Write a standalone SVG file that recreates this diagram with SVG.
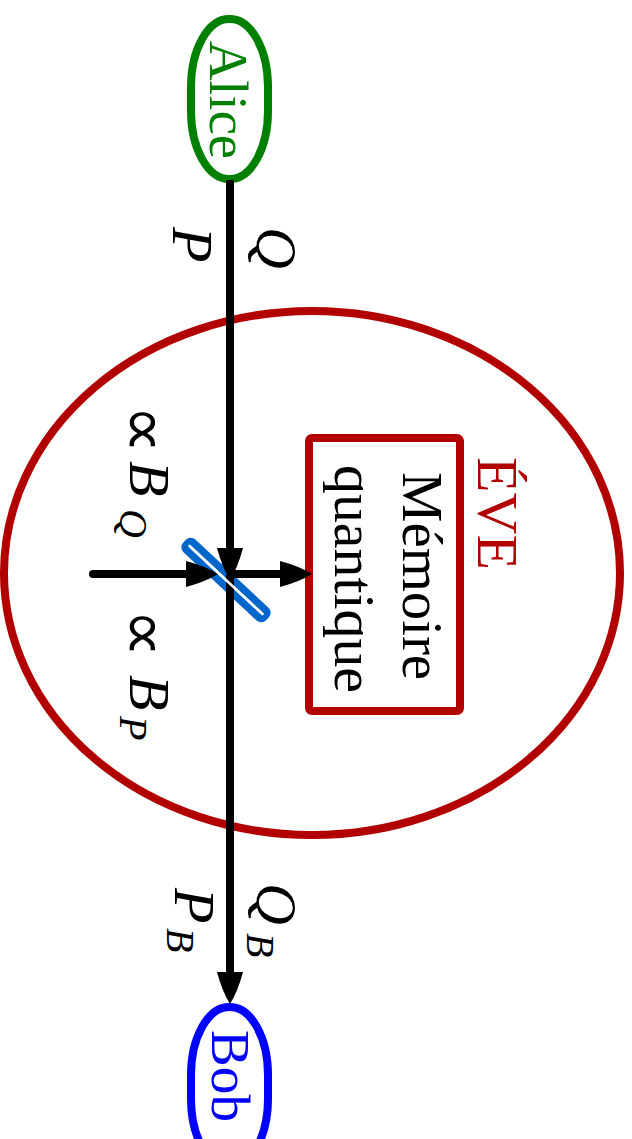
<svg xmlns="http://www.w3.org/2000/svg" width="632" height="1139" viewBox="0 0 632 1139">
<style>
.t{font-family:"Liberation Serif","DejaVu Serif",serif;}
.m{font-family:"Liberation Serif","DejaVu Serif",serif;font-style:italic;}
.prop{font-family:"DejaVu Sans",sans-serif;font-style:normal;font-size:68px;}
.ln{stroke:#000;stroke-width:8;fill:none;}
</style>
<defs>
<marker id="ah" viewBox="-32 -13 32 26" refX="-22" refY="0" markerWidth="32" markerHeight="26" markerUnits="userSpaceOnUse" orient="auto">
<path d="M-32,-13 Q-13,-8 0,0 Q-13,8 -32,13 Z" fill="#000"/>
</marker>
</defs>
<g id="eve">
<ellipse cx="312" cy="573" rx="308" ry="262" fill="none" stroke="#b20000" stroke-width="8"/>
<text class="t" transform="translate(478,513.5) rotate(90)" text-anchor="middle" font-size="56" fill="#b20000" textLength="113" lengthAdjust="spacingAndGlyphs">ÉVE</text>
</g>
<g id="memoire">
<rect x="309" y="438" width="151" height="273" rx="3" fill="#fff" stroke="#b20000" stroke-width="8"/>
<text class="t" transform="translate(403,576) rotate(90)" text-anchor="middle" font-size="58" fill="#000" textLength="208" lengthAdjust="spacingAndGlyphs">Mémoire</text>
<text class="t" transform="translate(335,579) rotate(90)" text-anchor="middle" font-size="58" fill="#000" textLength="228" lengthAdjust="spacingAndGlyphs">quantique</text>
</g>
<g id="alice">
<rect x="191" y="19" width="77" height="160" rx="38" ry="68" fill="#fff" stroke="#008000" stroke-width="8"/>
<text class="t" transform="translate(210,100) rotate(90)" text-anchor="middle" font-size="54" fill="#008000" textLength="118" lengthAdjust="spacingAndGlyphs">Alice</text>
</g>
<g id="bob">
<rect x="191" y="1007" width="77" height="160" rx="38" ry="68" fill="#fff" stroke="#0000ff" stroke-width="8"/>
<text class="t" transform="translate(212,1076) rotate(90)" text-anchor="middle" font-size="54" fill="#0000ff" textLength="92" lengthAdjust="spacingAndGlyphs">Bob</text>
</g>
<g id="splitter" transform="translate(226,580) rotate(43)">
<rect x="-53" y="-5" width="106" height="10" rx="3" fill="#fff" stroke="#0066cc" stroke-width="7.5"/>
</g>
<g id="connectors">
<line class="ln" x1="230" y1="180" x2="230" y2="558" marker-end="url(#ah)"/>
<line class="ln" x1="230" y1="575" x2="230" y2="982" marker-end="url(#ah)"/>
<line class="ln" x1="93" y1="574" x2="196" y2="574" stroke-linecap="round" marker-end="url(#ah)"/>
<line class="ln" x1="230" y1="574" x2="290" y2="574" marker-end="url(#ah)"/>
</g>
<g id="splitter-inner" transform="translate(226,580) rotate(43)">
<line x1="-51" y1="0" x2="51" y2="0" stroke="#fff" stroke-width="2.5"/>
</g>
<g id="labels">
<text class="m" transform="translate(257,227) rotate(90)" font-size="58">Q</text>
<text class="m" transform="translate(173,227) rotate(90)" font-size="58">P</text>
<text class="prop" transform="translate(122,405) rotate(90)">∝</text>
<text class="m" transform="translate(130,461) rotate(90)" font-size="58"><tspan x="0">B</tspan><tspan x="48" dy="10" font-size="40">Q</tspan></text>
<text class="prop" transform="translate(122,609) rotate(90)">∝</text>
<text class="m" transform="translate(130,675) rotate(90)" font-size="58"><tspan x="0">B</tspan><tspan x="41" dy="10" font-size="40">P</tspan></text>
<text class="m" transform="translate(257,883) rotate(90)" font-size="58"><tspan x="0">Q</tspan><tspan x="50" dy="10" font-size="40">B</tspan></text>
<text class="m" transform="translate(175,888) rotate(90)" font-size="58"><tspan x="0">P</tspan><tspan x="40" dy="8" font-size="40">B</tspan></text>
</g>
</svg>
